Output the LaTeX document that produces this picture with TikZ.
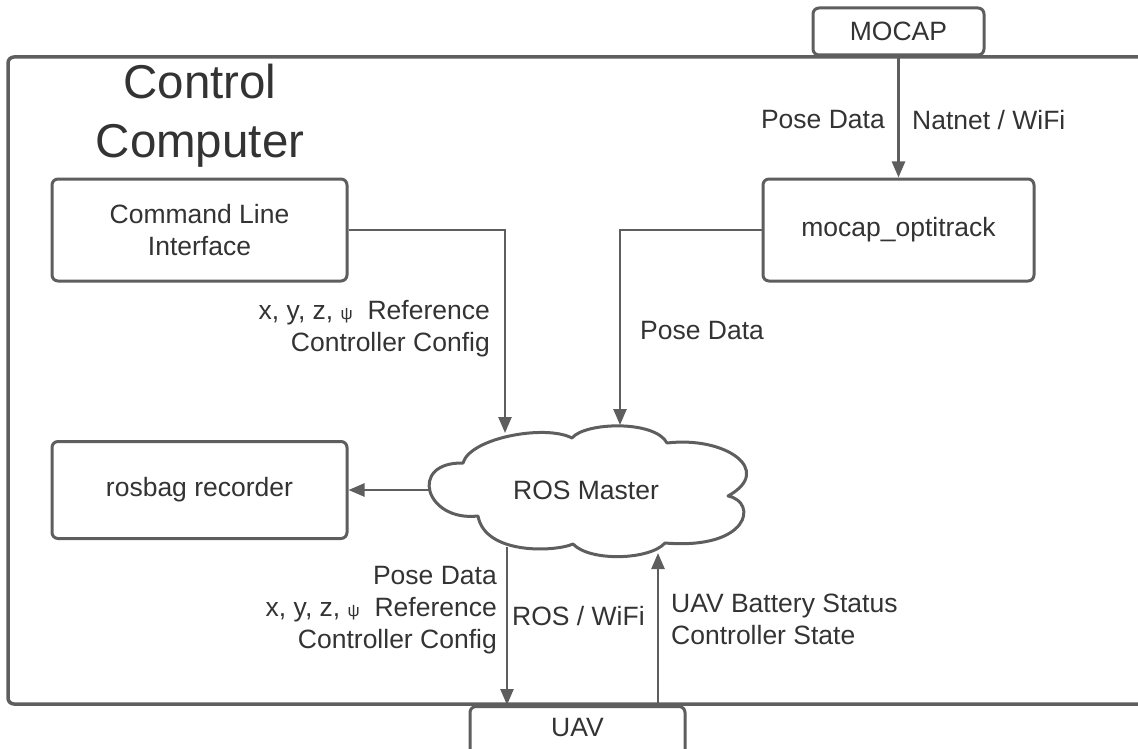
\documentclass[tikz,border=0pt]{standalone}
\usepackage{fontspec}
\setmainfont{Liberation Sans}
\usetikzlibrary{arrows.meta}
\definecolor{edge}{HTML}{5E5E5E}
\definecolor{ink}{HTML}{333333}
\newcommand{\smallpsi}{{\fontsize{17}{17}\selectfont ψ}}
\begin{document}
\begin{tikzpicture}[x=1pt,y=-1pt,
  box/.style={draw=edge, line width=3pt, rounded corners=6pt, fill=white,
    text=ink, font=\fontsize{26.5}{32}\selectfont, align=center, inner sep=0pt},
  wire/.style={draw=edge, line width=2.5pt, -{Triangle[length=16pt,width=13pt]}},
  lbl/.style={text=ink, font=\fontsize{26.5}{32}\selectfont, inner sep=0pt},
  puff/.style={draw=edge, line width=3pt, fill=white, line join=round},
]
\useasboundingbox (0,0) rectangle (1138,749);

% control computer frame (runs past the right edge)
\draw[edge, line width=3.5pt, rounded corners=6pt] (8,57) rectangle (1160,704);
\node[text=ink, font=\fontsize{47.5}{59}\selectfont, align=center, inner sep=0pt] (title) at (200,116) {Control\\Computer};

% blocks
\node[box, minimum width=171pt, minimum height=47pt] (mocap) at (898.5,31.5) {MOCAP};
\node[box, minimum width=295pt, minimum height=102pt] (cli) at (199.5,230) {Command Line\\Interface};
\node[box, minimum width=271pt, minimum height=102pt] (opt) at (898.5,230) {mocap\_optitrack};
\node[box, minimum width=295pt, minimum height=97pt] (bag) at (199.5,490) {rosbag recorder};
\node[box, minimum width=215pt, minimum height=60pt, anchor=north] (uav) at (577.5,705) {\raisebox{18pt}{UAV}};

% ROS master cloud outline
\draw[puff] (463,463)
  .. controls (470,438) and (545,424) .. (572,438)
  .. controls (585,422) and (655,420) .. (667,443)
  .. controls (725,436) and (775,470) .. (728,496)
  .. controls (758,502) and (750,550) .. (665,543)
  .. controls (650,560) and (590,562) .. (573,544)
  .. controls (555,552) and (485,555) .. (478,516)
  .. controls (425,522) and (408,462) .. cycle;
\node[text=ink, font=\fontsize{26.5}{32}\selectfont, inner sep=0pt] (ros) at (586,490) {ROS Master};

% attachment points on the cloud outline
\coordinate (rosN1) at (505,433);
\coordinate (rosN2) at (620,425);
\coordinate (rosW) at (429,490);
\coordinate (rosS1) at (507,547);
\coordinate (rosS2) at (658,553);

% connectors
\draw[wire] (mocap.south) -- (opt.north);
\draw[wire] (cli.east) -| (rosN1);
\draw[wire] (opt.west) -| (rosN2);
\draw[wire] (rosW) -- (bag.east);
\draw[wire] (rosS1) -- (rosS1 |- uav.north);
\draw[wire] (rosS2 |- uav.north) -- (rosS2);

% labels
\node[lbl, anchor=east] at (885,120) {Pose Data};
\node[lbl, anchor=west] at (912,120) {Natnet / WiFi};
\node[lbl, anchor=east, align=right] at (490,329) {x, y, z, \smallpsi\ \ Reference\\Controller Config};
\node[lbl, anchor=west] at (640,331) {Pose Data};
\node[lbl, anchor=east, align=right] at (497,610) {Pose Data\\x, y, z, \smallpsi\ \ Reference\\Controller Config};
\node[lbl, anchor=west] at (512,616) {ROS / WiFi};
\node[lbl, anchor=west, align=left] at (671,619) {UAV Battery Status\\Controller State};
\end{tikzpicture}
\end{document}
